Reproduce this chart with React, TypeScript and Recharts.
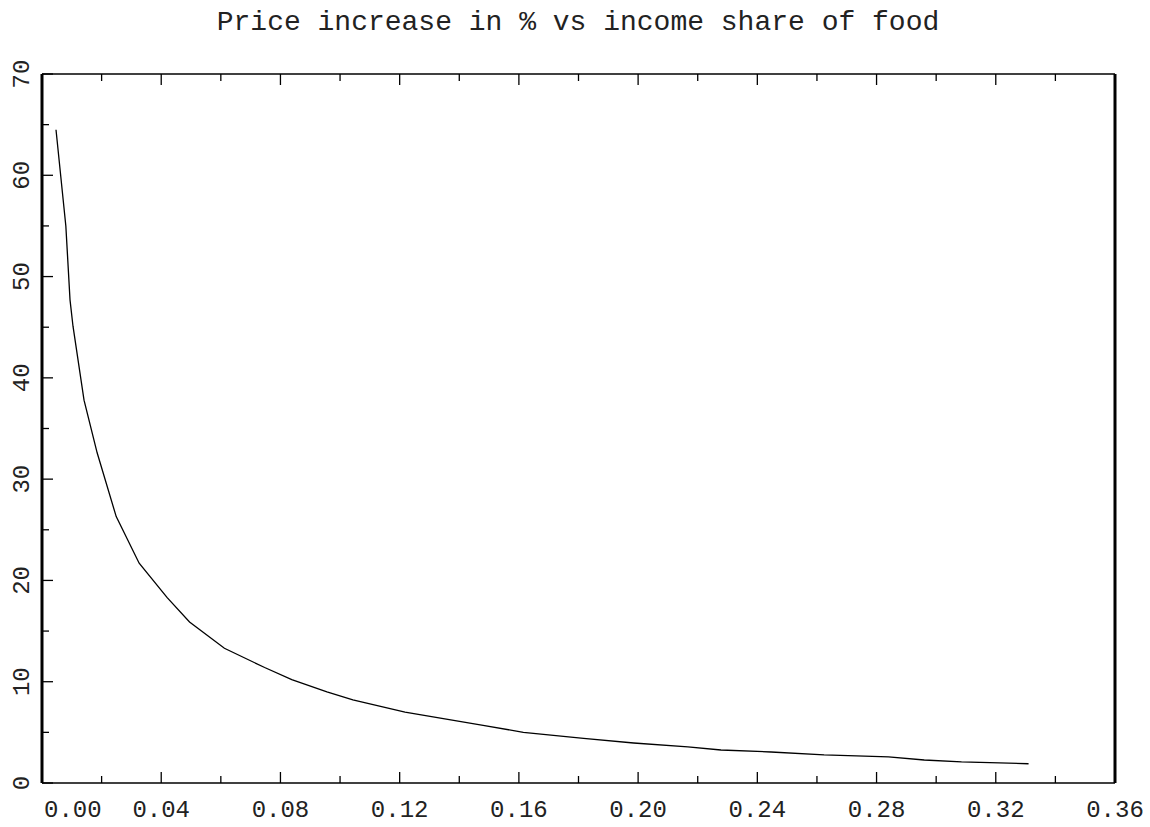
import React from "react";
import { LineChart, Line, XAxis, YAxis } from "recharts";

// income share of food vs price increase in %
const shares = [
  0.0047, 0.008, 0.0094, 0.0104, 0.0141, 0.0185, 0.0249, 0.0326, 0.042, 0.0495,
  0.0612, 0.0747, 0.0838, 0.0956, 0.1043, 0.1218, 0.148, 0.1615, 0.1817, 0.1985,
  0.2167, 0.2278, 0.2446, 0.2624, 0.284, 0.296, 0.3085, 0.331,
];
const increases = [
  64.5, 55.0, 47.7, 45.1, 37.8, 32.6, 26.3, 21.7, 18.3, 15.9,
  13.3, 11.4, 10.2, 9.0, 8.2, 7.0, 5.7, 5.0, 4.4, 3.95,
  3.56, 3.26, 3.06, 2.77, 2.57, 2.27, 2.08, 1.9,
];
const xTicks = [
  0, 0.02, 0.04, 0.06, 0.08, 0.1, 0.12, 0.14, 0.16, 0.18, 0.2, 0.22, 0.24, 0.26,
  0.28, 0.3, 0.32, 0.34, 0.36,
];
const yTicks = [0, 5, 10, 15, 20, 25, 30, 35, 40, 45, 50, 55, 60, 65, 70];

const data = shares.map((s, i) => ({ share: s, pct: increases[i] }));

const FONT = "'Liberation Mono', 'DejaVu Sans Mono', monospace";
const MAJOR = 11;
const MINOR = 7;

const BottomTick = (props: any) => {
  const { x, y, index, payload } = props;
  const major = index % 2 === 0;
  return (
    <g>
      <line x1={x} y1={y} x2={x} y2={y - (major ? MAJOR : MINOR)} stroke="#000" strokeWidth={1.3} />
      {major && (
        <text
          x={index === 0 ? x + 2 : x}
          y={y + 34}
          textAnchor={index === 0 ? "start" : "middle"}
          fontFamily={FONT}
          fontSize={24}
          fill="#222"
        >
          {payload.value.toFixed(2)}
        </text>
      )}
    </g>
  );
};

const TopTick = (props: any) => {
  const { x, y, index } = props;
  const major = index % 2 === 0;
  return <line x1={x} y1={y} x2={x} y2={y + (major ? MAJOR : MINOR)} stroke="#000" strokeWidth={1.3} />;
};

const LeftTick = (props: any) => {
  const { x, y, index, payload } = props;
  const major = index % 2 === 0;
  const lx = x - 21;
  return (
    <g>
      <line x1={x} y1={y} x2={x + (major ? MAJOR : MINOR)} y2={y} stroke="#000" strokeWidth={1.3} />
      {major && (
        <text
          x={lx}
          y={y}
          dy="0.35em"
          transform={`rotate(-90, ${lx}, ${y})`}
          textAnchor="middle"
          fontFamily={FONT}
          fontSize={24}
          fill="#222"
        >
          {payload.value}
        </text>
      )}
    </g>
  );
};

const RightTick = (props: any) => {
  const { x, y, index } = props;
  const major = index % 2 === 0;
  return <line x1={x} y1={y} x2={x - (major ? MAJOR : MINOR)} y2={y} stroke="#000" strokeWidth={1.3} />;
};

export default function App() {
  return (
    <div style={{ position: "absolute", left: 0, top: 0, width: 1150, height: 827, background: "#fff" }}>
      <div
        style={{
          position: "absolute",
          top: 7,
          left: 0,
          width: 1156,
          textAlign: "center",
          fontFamily: FONT,
          fontSize: 28,
          color: "#222",
          whiteSpace: "pre",
        }}
      >
        Price increase in % vs income share of food
      </div>
      <LineChart width={1150} height={827} data={data} margin={{ top: 73, right: 0, bottom: 0, left: 0 }}>
        <XAxis
          xAxisId="bottom"
          dataKey="share"
          type="number"
          domain={[0, 0.36]}
          ticks={xTicks}
          interval={0}
          height={44}
          tickSize={0}
          tickMargin={0}
          tickLine={false}
          axisLine={{ stroke: "#000", strokeWidth: 1.5 }}
          tick={<BottomTick />}
        />
        <XAxis
          xAxisId="top"
          orientation="top"
          dataKey="share"
          type="number"
          domain={[0, 0.36]}
          ticks={xTicks}
          interval={0}
          height={1}
          tickSize={0}
          tickMargin={0}
          tickLine={false}
          axisLine={{ stroke: "#000", strokeWidth: 1.5 }}
          tick={<TopTick />}
        />
        <YAxis
          yAxisId="left"
          type="number"
          domain={[0, 70]}
          ticks={yTicks}
          interval={0}
          width={42}
          tickSize={0}
          tickMargin={0}
          tickLine={false}
          axisLine={{ stroke: "#000", strokeWidth: 3 }}
          tick={<LeftTick />}
        />
        <YAxis
          yAxisId="right"
          orientation="right"
          type="number"
          domain={[0, 70]}
          ticks={yTicks}
          interval={0}
          width={35}
          tickSize={0}
          tickMargin={0}
          tickLine={false}
          axisLine={{ stroke: "#000", strokeWidth: 3 }}
          tick={<RightTick />}
        />
        <Line
          xAxisId="bottom"
          yAxisId="left"
          type="linear"
          dataKey="pct"
          stroke="#000"
          strokeWidth={1.3}
          dot={false}
          isAnimationActive={false}
        />
      </LineChart>
    </div>
  );
}
